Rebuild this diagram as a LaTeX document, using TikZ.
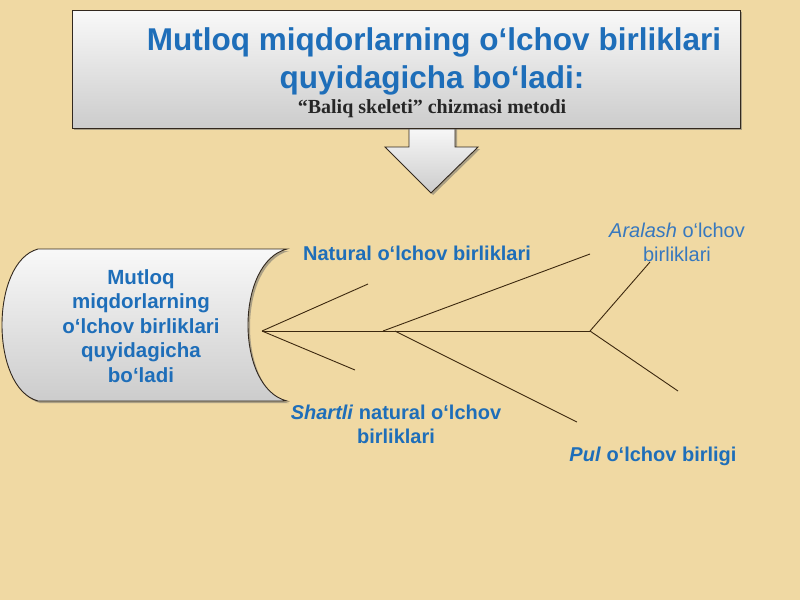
\documentclass[tikz,border=0pt]{standalone}
\usepackage{fontspec}
\setmainfont{Liberation Sans}
\newfontfamily\timesf{Liberation Serif}
\usetikzlibrary{shadows}
\definecolor{bg}{RGB}{240,217,163}
\definecolor{tblue}{RGB}{30,110,185}
\definecolor{lblue}{RGB}{55,120,190}
\definecolor{bone}{RGB}{60,40,15}
\definecolor{edge}{RGB}{50,40,30}
\begin{document}
\begin{tikzpicture}[x=1pt,y=-1pt,
  lbl/.style={font=\bfseries\fontsize{20}{24}\selectfont, text=tblue, align=center, inner sep=0pt},
  ttl/.style={font=\bfseries\fontsize{31.5}{36}\selectfont, text=tblue, inner sep=0pt},
  bonestyle/.style={draw=bone, line width=0.9pt},
  silver/.style={draw=edge, line width=0.9pt, top color=gray!5, bottom color=gray!40},
  shade/.style={drop shadow={shadow xshift=2pt, shadow yshift=-2pt, fill=black!60, opacity=0.5}}]
\fill[bg] (0,0) rectangle (800,600);
\useasboundingbox (0,0) rectangle (800,600);
% arrow
\path[silver, shade] (409,126) -- (455,126) -- (455,147) -- (478,147) -- (431,193) -- (385,147) -- (409,147) -- cycle;
% top box
\node[silver, shade, minimum width=668pt, minimum height=118pt, anchor=north west, inner sep=0pt] (topbox) at (72,10) {};
\node[ttl] (t1) at (434,42) {Mutloq miqdorlarning o‘lchov birliklari};
\node[ttl] (t2) at (432,80) {quyidagicha bo‘ladi:};
\node[font=\timesf\bfseries\fontsize{20}{22}\selectfont, text=black!85, inner sep=0pt] (t3) at (432,109) {“Baliq skeleti” chizmasi metodi};
% left box
\path[silver, shade] (38,249) -- (287,249) .. controls (235,262) and (235,388) .. (287,401) -- (38,401) .. controls (-10,388) and (-10,262) .. (38,249) -- cycle;
\node[font=\bfseries\fontsize{20.5}{24.5}\selectfont, text=tblue, align=center, inner sep=0pt] (src) at (141,326) {Mutloq\\miqdorlarning\\o‘lchov birliklari\\quyidagicha\\bo‘ladi};
% fishbone
\coordinate (h) at (262,331);
\coordinate (s1) at (383,331);
\coordinate (s2) at (395,331);
\coordinate (tail) at (590,331);
\coordinate (b1) at (368,284);
\coordinate (b2) at (355,370);
\coordinate (b3) at (590,254);
\coordinate (b4) at (577,422);
\coordinate (b5) at (650,262);
\coordinate (b6) at (678,391);
\draw[bonestyle] (h) -- (tail);
\draw[bonestyle] (h) -- (b1);
\draw[bonestyle] (h) -- (b2);
\draw[bonestyle] (s1) -- (b3);
\draw[bonestyle] (s2) -- (b4);
\draw[bonestyle] (tail) -- (b5);
\draw[bonestyle] (tail) -- (b6);
% labels
\node[lbl] (l1) at (417,253) {Natural o‘lchov birliklari};
\node[font=\fontsize{20}{24}\selectfont, text=lblue, align=center, inner sep=0pt] (l2) at (677,242) {\textit{Aralash} o‘lchov\\birliklari};
\node[lbl] (l3) at (396,424) {\textit{Shartli} natural o‘lchov\\birliklari};
\node[lbl] (l4) at (653,456) {\textit{Pul} o‘lchov birligi};
\end{tikzpicture}
\end{document}
